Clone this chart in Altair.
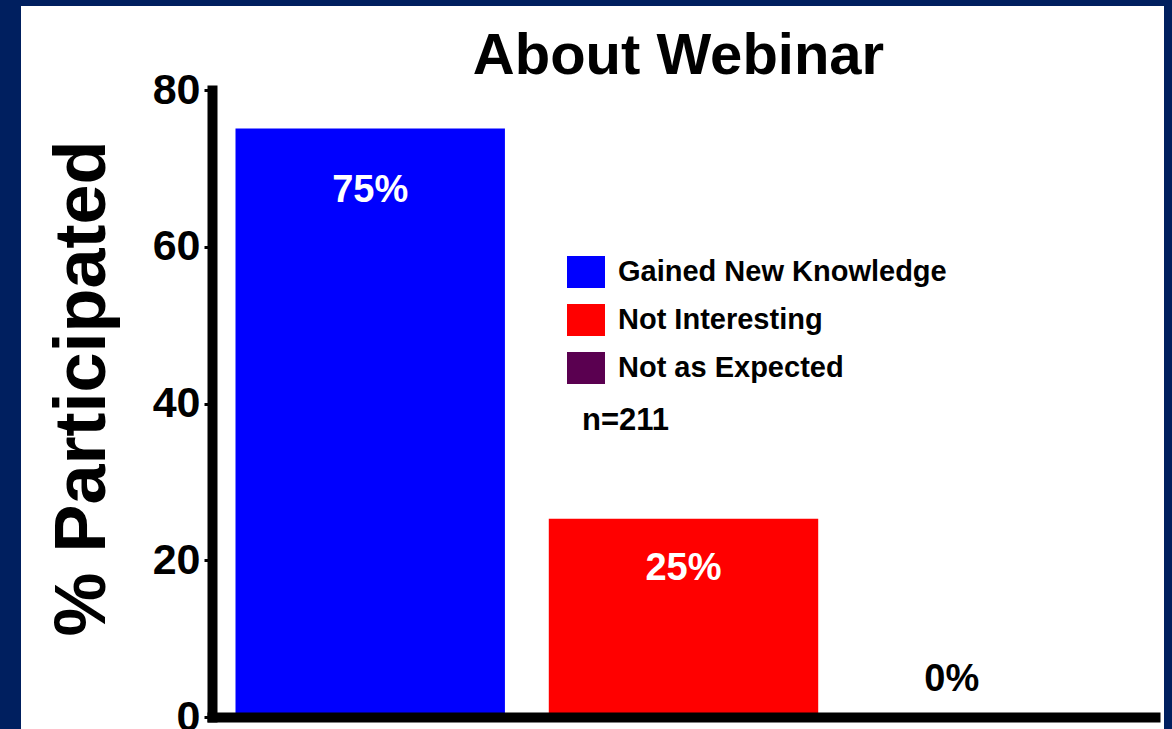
import altair as alt
import pandas as pd

categories = ["Gained New Knowledge", "Not Interesting", "Not as Expected"]
values = [75.1, 25.3, 0]
labels = ["75%", "25%", "0%"]
colors = ["#0000ff", "#ff0000", "#5a0050"]
y_ticks = [0, 20, 40, 60, 80]
n_label = "n=211"
title_text = "About Webinar"
y_title = "% Participated"

FONT = "Liberation Sans"
NAVY = "#001f5f"

df = pd.DataFrame({"category": categories, "value": values, "label": labels})

W, H = 943, 627
PAD = {"left": 212, "top": 90, "right": 17, "bottom": 12}

frame = alt.Chart(pd.DataFrame({"a": [0]})).mark_rect(color="white").encode(
    x=alt.value(21 - PAD["left"]),
    x2=alt.value(1164 - PAD["left"]),
    y=alt.value(6 - PAD["top"]),
    y2=alt.value(740 - PAD["top"]),
)

x_enc = alt.X(
    "category:N",
    sort=categories,
    scale=alt.Scale(paddingInner=0.14, paddingOuter=0.075),
    axis=alt.Axis(
        title=None, labels=False, ticks=False, domainWidth=10,
        domainColor="black", domainCap="square", grid=False, zindex=2,
    ),
)

bars = alt.Chart(df).mark_bar().encode(
    x=x_enc,
    y=alt.Y(
        "value:Q",
        scale=alt.Scale(domain=[0, 80], nice=False),
        axis=alt.Axis(
            values=y_ticks, title=y_title, titleFontSize=72, titleFont=FONT,
            titleFontWeight="bold", titleColor="black", titleAngle=270,
            titleBaseline="alphabetic", titleX=-108, titleY=298,
            titleAlign="center",
            labelFontSize=43, labelFont=FONT, labelFontWeight="bold",
            labelColor="black", labelPadding=4, tickSize=8, tickWidth=3,
            tickColor="black", domainWidth=10, domainColor="black",
            domainCap="square", grid=False, labelFlush=False, zindex=2,
        ),
    ),
    color=alt.Color(
        "category:N",
        sort=categories,
        scale=alt.Scale(domain=categories, range=colors),
        legend=alt.Legend(
            title=None, orient="none", legendX=355, legendY=163,
            labelFontSize=29, labelFont=FONT, labelFontWeight="bold",
            labelColor="black", symbolType="M-1,-0.842H1V0.842H-1Z",
            symbolSize=1444, symbolStrokeWidth=0, symbolOpacity=1,
            rowPadding=13, labelOffset=13, labelLimit=600,
        ),
    ),
)

base_text = alt.Chart(df).transform_calculate(
    ypos="datum.value > 0 ? datum.value * 0.97 - 5.7 : datum.value + 4.7"
)

texts_in = base_text.transform_filter(alt.datum.value > 0).mark_text(
    font=FONT, fontSize=38, fontWeight="bold", baseline="middle", align="center",
    color="white",
).encode(
    x=alt.X("category:N", sort=categories),
    y=alt.Y("ypos:Q"),
    text="label:N",
)

texts_zero = base_text.transform_filter(alt.datum.value <= 0).mark_text(
    font=FONT, fontSize=38, fontWeight="bold", baseline="middle", align="center",
    color="black", dx=-45,
).encode(
    x=alt.X("category:N", sort=categories),
    y=alt.Y("ypos:Q"),
    text="label:N",
)

ntext = alt.Chart(pd.DataFrame({"t": [n_label]})).mark_text(
    font=FONT, fontSize=31, fontWeight="bold", align="left", baseline="middle",
    color="black",
).encode(
    x=alt.value(582 - PAD["left"]),
    y=alt.value(421 - PAD["top"]),
    text="t:N",
)

chart = alt.layer(frame, bars, texts_in, texts_zero, ntext).properties(
    width=W, height=H,
    title=alt.TitleParams(
        title_text, font=FONT, fontSize=58, fontWeight="bold", color="black",
        anchor="middle", frame="group", baseline="alphabetic", offset=-126,
        dx=-5,
    ),
    autosize=alt.AutoSizeParams(type="none"),
    padding=PAD,
    background=NAVY,
).configure_view(stroke=None)

chart.save("out.html", embed_options={"renderer": "svg", "actions": False})
